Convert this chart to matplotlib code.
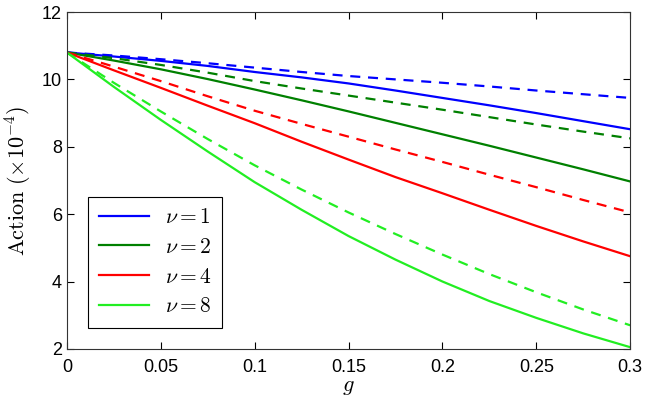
import matplotlib as mpl
import matplotlib.pyplot as plt

mpl.rcParams["font.family"] = ["Liberation Sans", "DejaVu Sans"]
mpl.rcParams["mathtext.fontset"] = "cm"

g = [0.0, 0.025, 0.05, 0.075, 0.1, 0.125, 0.15, 0.175, 0.2, 0.225, 0.25, 0.275, 0.3]

# solid curves
nu1 = [10.8, 10.68, 10.55, 10.4, 10.22, 10.06, 9.88, 9.67, 9.45, 9.23, 9.0, 8.76, 8.52]
nu2 = [10.8, 10.56, 10.3, 10.01, 9.7, 9.38, 9.05, 8.71, 8.37, 8.03, 7.68, 7.33, 6.97]
nu4 = [10.8, 10.27, 9.75, 9.22, 8.7, 8.15, 7.62, 7.1, 6.62, 6.13, 5.65, 5.19, 4.75]
nu8 = [10.8, 9.78, 8.8, 7.86, 6.95, 6.13, 5.35, 4.65, 4.0, 3.42, 2.92, 2.46, 2.05]

# dashed curves
nu1_d = [10.8, 10.71, 10.6, 10.48, 10.35, 10.22, 10.1, 10.0, 9.9, 9.79, 9.67, 9.56, 9.45]
nu2_d = [10.8, 10.63, 10.43, 10.2, 9.95, 9.73, 9.52, 9.31, 9.1, 8.88, 8.66, 8.45, 8.25]
nu4_d = [10.8, 10.38, 9.95, 9.5, 9.07, 8.68, 8.3, 7.92, 7.55, 7.17, 6.8, 6.42, 6.05]
nu8_d = [10.8, 9.9, 9.05, 8.23, 7.45, 6.73, 6.05, 5.41, 4.8, 4.22, 3.68, 3.17, 2.7]

labels = [r"$\nu = 1$", r"$\nu = 2$", r"$\nu = 4$", r"$\nu = 8$"]
colors = ["#0000ff", "#008000", "#ff0000", "#22ee22"]

fig = plt.figure(figsize=(6.49, 4.01), dpi=100)
ax = fig.add_axes([0.103, 0.130, 0.868, 0.840])

for y, c, lab in zip([nu1, nu2, nu4, nu8], colors, labels):
    ax.plot(g, y, color=c, lw=1.6, label=lab)
for y, c in zip([nu1_d, nu2_d, nu4_d, nu8_d], colors):
    ax.plot(g, y, color=c, lw=1.6, ls=(0, (4.5, 3.5)))

ax.set_xlim(0, 0.3)
ax.set_ylim(2, 12)
ax.set_xticks([0, 0.05, 0.1, 0.15, 0.2, 0.25, 0.3])
ax.set_xticklabels(["0", "0.05", "0.1", "0.15", "0.2", "0.25", "0.3"])
ax.set_yticks([2, 4, 6, 8, 10, 12])
ax.tick_params(direction="in", top=True, right=True, labelsize=13, length=5)
ax.tick_params(axis="x", pad=7)
for s in ax.spines.values():
    s.set_linewidth(0.8)
    s.set_color("#333333")

ax.set_xlabel(r"$g$", fontsize=16, labelpad=0)
ax.set_ylabel(r"$\mathrm{Action}\ (\times 10^{-4})$", fontsize=16, labelpad=6)

leg = ax.legend(loc="lower left", bbox_to_anchor=(0.038, 0.062), fontsize=15.5,
                fancybox=False, edgecolor="black", framealpha=1,
                handlelength=2.3, handletextpad=0.75, labelspacing=0.4,
                borderpad=0.5, borderaxespad=0)
leg.get_frame().set_linewidth(0.8)

plt.savefig("out.png", dpi=100)
